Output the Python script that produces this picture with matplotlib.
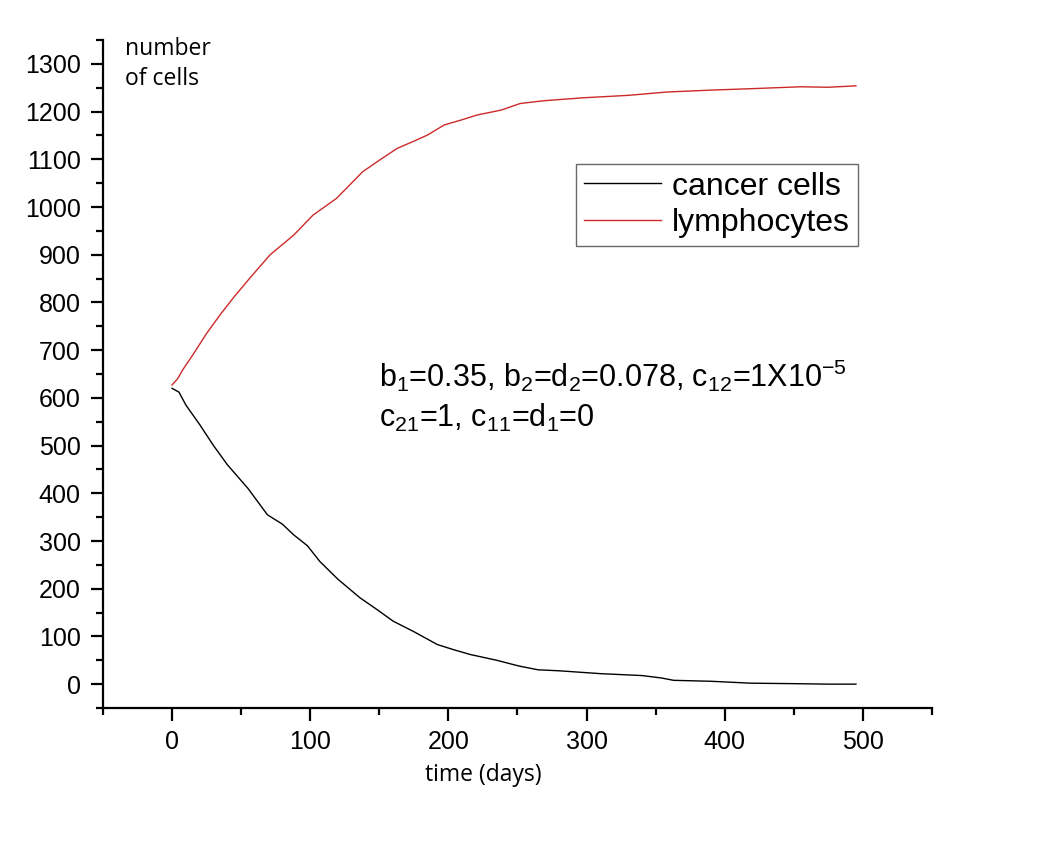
import numpy as np
import matplotlib.pyplot as plt
from matplotlib.ticker import MultipleLocator

# values (time in days, number of cells)
tCancer = [0, 5, 10, 20, 30, 40, 55, 69, 80, 88, 98, 107, 120, 136, 148, 160, 175, 192, 204, 216, 235, 251, 265, 280, 310, 340, 354, 363, 390, 419, 450, 475, 495]
cancer = [620, 612, 585, 544, 500, 460, 410, 355, 335, 313, 290, 257, 220, 181, 157, 132, 110, 83, 72, 62, 50, 38, 30, 28, 22, 18, 13, 8, 6, 2, 1, 0, 0]

tLymph = [0, 4, 8, 15, 25, 35, 45, 56, 71, 88, 102, 119, 138, 150, 163, 175, 185, 197, 210, 221, 238, 252, 270, 298, 330, 358, 390, 419, 455, 475, 495]
lymph = [627, 640, 660, 690, 735, 775, 812, 850, 900, 941, 983, 1018, 1074, 1098, 1123, 1138, 1151, 1172, 1183, 1193, 1203, 1217, 1223, 1229, 1234, 1241, 1245, 1248, 1252, 1251, 1254]

plt.rcParams['font.family'] = ['Liberation Sans', 'DejaVu Sans']
plt.rcParams['mathtext.fontset'] = 'custom'
plt.rcParams['mathtext.rm'] = 'Liberation Sans'
plt.rcParams['mathtext.it'] = 'Liberation Sans'

fig = plt.figure(figsize=(10.54, 8.48), dpi=100)
ax = fig.add_axes([0.0977, 0.1651, 0.7865, 0.7877])

ax.plot(tCancer, cancer, color='black', lw=1.0, label='cancer cells')
ax.plot(tLymph, lymph, color='#cc2a2a', lw=1.0, label='lymphocytes')

ax.set_xlim(-50, 550)
ax.set_ylim(-50, 1350)
ax.xaxis.set_major_locator(MultipleLocator(100))
ax.xaxis.set_minor_locator(MultipleLocator(50))
ax.yaxis.set_major_locator(MultipleLocator(100))
ax.yaxis.set_minor_locator(MultipleLocator(50))

for s in ['top', 'right']:
    ax.spines[s].set_visible(False)
for s in ['left', 'bottom']:
    ax.spines[s].set_linewidth(1.6)
ax.tick_params(which='major', direction='out', length=9, width=1.6, labelsize=18, pad=7)
ax.tick_params(which='minor', direction='out', length=5, width=1.6)

ax.text(0.027, 1.005, 'number\nof cells', transform=ax.transAxes, family='Open Sans',
        fontsize=16.5, va='top', ha='left', linespacing=1.35)
ax.set_xlabel('time (days)', family='Open Sans', fontsize=16.5)
ax.xaxis.set_label_coords(0.459, -0.082)

leg = ax.legend(loc='upper left', bbox_to_anchor=(0.571, 0.815), fontsize=23, frameon=True,
                fancybox=False, edgecolor='#444444', handlelength=2.4, handletextpad=0.35,
                borderpad=0.25, labelspacing=0.2, borderaxespad=0)
leg.get_frame().set_linewidth(1.0)

ax.text(0.333, 0.4805, r'b$_1$=0.35, b$_2$=d$_2$=0.078, c$_{12}$=1X10$^{-5}$', transform=ax.transAxes,
        fontsize=22, ha='left', va='baseline')
ax.text(0.333, 0.4207, r'c$_{21}$=1, c$_{11}$=d$_1$=0', transform=ax.transAxes,
        fontsize=22, ha='left', va='baseline')

fig.savefig('out.png', dpi=100)
